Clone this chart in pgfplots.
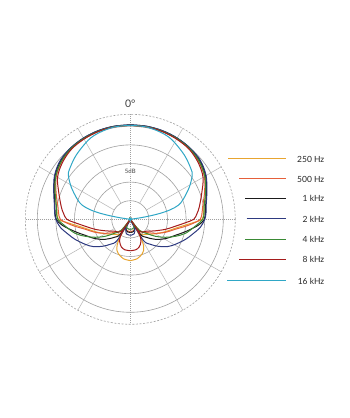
\documentclass[border=0pt]{standalone}
\usepackage{pgfplots}
\pgfplotsset{compat=1.18}
\usepackage{pgfplotstable}
\usepgfplotslibrary{polar}
\usepackage{fontspec}
\setmainfont{Lato}

\definecolor{colA}{HTML}{E8A530}
\definecolor{colB}{HTML}{E5603A}
\definecolor{colC}{HTML}{1A1A1A}
\definecolor{colD}{HTML}{2E3A80}
\definecolor{colE}{HTML}{3A8A35}
\definecolor{colF}{HTML}{A51C1C}
\definecolor{colG}{HTML}{2FA7C6}
\definecolor{ringc}{HTML}{A0A0A0}
\definecolor{spokec}{HTML}{B4B4B4}

% angle (deg, from front, one side) and radius
\pgfplotstableread{
a r
0 94
10 94
20 93.8
30 93.3
40 92.5
50 90.5
60 86.5
70 80.5
80 75
85 73.5
90 72
92.7 64.1
95.9 55.6
101.3 45.9
109.2 37.4
120.1 28.9
135 21.2
145.4 17.6
147 0
149.5 12
150.5 22
153 29
157 34
161 36.5
170 40
180 41.3
}\tA
\pgfplotstableread{
a r
0 94
10 93.9
20 93.6
30 93
40 92
50 89.5
60 85.5
70 79
80 73.5
85 72
90 70
93.6 63.1
97.2 55.7
102.5 46.1
110.2 37.6
119.2 28.7
130.9 19.8
140.7 14.2
143 0
146 6
152 10
165 12
180 12
}\tB
\pgfplotstableread{
a r
0 94.5
10 94.4
20 94.2
30 93.7
40 92.8
50 91
60 87
70 81
80 76.5
85 75.5
90 74
95 68.3
102.5 56.7
109.6 47.8
118.7 40.2
128.7 32
138.4 24.1
146.3 18
147 0
150 8
160 12
170 13
180 13
}\tC
\pgfplotstableread{
a r
0 94.5
10 94.5
20 94.3
30 93.8
40 93
50 91.5
60 87.5
70 81.5
80 77
85 76
90 74.5
96.5 70.5
103.6 63.8
109.9 58.8
119.1 51.5
126.4 46
134 38.9
141.3 32
148.2 24.7
149 0
155 10
165 15
180 16
}\tD
\pgfplotstableread{
a r
0 94
10 94
20 93.7
30 93.2
40 92.3
50 90
60 86
70 80
80 75
85 74
90 72.5
95.2 66.3
104.2 57
110.7 48.1
117 39.6
124.2 30.2
131.2 21.3
140.7 14.2
143 0
147 6
155 9
170 10
180 10
}\tE
\pgfplotstableread{
a r
0 94
10 93.8
20 93.4
30 92.6
40 91.5
50 88.5
60 84
70 76
80 70
85 67
90 63.5
93.5 55.4
98.8 45.5
105.8 36.7
114.7 27.5
128.1 19.4
143.8 15.2
145 0
146 12
150 20
155 25
162 29
170 31
180 31.4
}\tF
\pgfplotstableread{
a r
0 94
10 93.7
20 92
28 89.6
40 84
50 79
54.6 76
61.5 67.1
69.3 56.6
73.7 50
76.6 41.1
78.7 30.6
80.1 20.3
81.5 10.1
83 0
}\tG

\begin{document}
\begin{tikzpicture}
\path[use as bounding box, fill=white] (0,0) rectangle (350bp,418bp);
\begin{polaraxis}[
  at={(130.3bp,198.7bp)}, anchor=center,
  scale only axis, width=210bp, height=210bp,
  ymin=0, ymax=105,
  xtick=\empty, ytick=\empty,
  axis line style={draw=none},
  clip=false,
  every axis plot/.append style={line width=1.0bp, smooth, tension=0.55, no markers},
]
% grid
\draw[ringc, line width=0.6bp] (axis cs:0,0) circle[radius=18.6bp];
\draw[ringc, line width=0.6bp] (axis cs:0,0) circle[radius=37.2bp];
\draw[ringc, line width=0.6bp] (axis cs:0,0) circle[radius=55.8bp];
\draw[ringc, line width=0.6bp] (axis cs:0,0) circle[radius=74.4bp];
\draw[ringc, line width=0.6bp] (axis cs:0,0) circle[radius=93bp];
\draw[ringc, line width=0.6bp, dash pattern=on 2bp off 1.6bp] (axis cs:0,0) circle[radius=105bp];
\draw[spokec, line width=0.5bp] (axis cs:30,18.6) -- (axis cs:30,105);
\draw[spokec, line width=0.5bp] (axis cs:60,18.6) -- (axis cs:60,105);
\draw[spokec, line width=0.5bp] (axis cs:120,18.6) -- (axis cs:120,105);
\draw[spokec, line width=0.5bp] (axis cs:150,18.6) -- (axis cs:150,105);
\draw[spokec, line width=0.5bp] (axis cs:210,18.6) -- (axis cs:210,105);
\draw[spokec, line width=0.5bp] (axis cs:240,18.6) -- (axis cs:240,105);
\draw[spokec, line width=0.5bp] (axis cs:300,18.6) -- (axis cs:300,105);
\draw[spokec, line width=0.5bp] (axis cs:330,18.6) -- (axis cs:330,105);
\draw[ringc, line width=0.6bp, dash pattern=on 1bp off 1bp] (axis cs:0,105) -- (axis cs:180,105);
\draw[ringc, line width=0.6bp, dash pattern=on 1bp off 1bp] (axis cs:90,105) -- (axis cs:270,105);
% curves
\addplot[colA] table[x expr=90-\thisrow{a}, y=r] {\tA};
\addplot[colA] table[x expr=90+\thisrow{a}, y=r] {\tA};
\addplot[colB] table[x expr=90-\thisrow{a}, y=r] {\tB};
\addplot[colB] table[x expr=90+\thisrow{a}, y=r] {\tB};
\addplot[colC] table[x expr=90-\thisrow{a}, y=r] {\tC};
\addplot[colC] table[x expr=90+\thisrow{a}, y=r] {\tC};
\addplot[colD] table[x expr=90-\thisrow{a}, y=r] {\tD};
\addplot[colD] table[x expr=90+\thisrow{a}, y=r] {\tD};
\addplot[colE] table[x expr=90-\thisrow{a}, y=r] {\tE};
\addplot[colE] table[x expr=90+\thisrow{a}, y=r] {\tE};
\addplot[colF] table[x expr=90-\thisrow{a}, y=r] {\tF};
\addplot[colF] table[x expr=90+\thisrow{a}, y=r] {\tF};
\addplot[colG] table[x expr=90-\thisrow{a}, y=r] {\tG};
\addplot[colG] table[x expr=90+\thisrow{a}, y=r] {\tG};
\addplot[colG, only marks, mark=*, mark size=1.3bp] coordinates {(0,0)};
\end{polaraxis}
\node[text=black!75] at (130.3bp,314bp) {\fontsize{10.5}{12}\selectfont 0°};
\node[fill=white, rounded corners=2bp, inner sep=1bp, text=black!75] at (130.3bp,246.5bp) {\fontsize{6}{7}\selectfont 5dB};
% legend
\draw[colA, line width=1.2bp] (228.3bp,259.5bp) -- (286bp,259.5bp);
\draw[colB, line width=1.2bp] (239.3bp,239.5bp) -- (286bp,239.5bp);
\draw[colC, line width=1.2bp] (245bp,219.5bp) -- (286bp,219.5bp);
\draw[colD, line width=1.2bp] (246.7bp,199.5bp) -- (286bp,199.5bp);
\draw[colE, line width=1.2bp] (245bp,178.5bp) -- (286bp,178.5bp);
\draw[colF, line width=1.2bp] (239.3bp,158.5bp) -- (286bp,158.5bp);
\draw[colG, line width=1.2bp] (227.3bp,137.5bp) -- (286bp,137.5bp);
\begin{scope}[every node/.style={anchor=east, inner sep=0pt, text=black!85, font=\fontsize{8.5}{10}\selectfont}]
\node at (324.5bp,259bp) {250 Hz};
\node at (324.5bp,239bp) {500 Hz};
\node at (324.5bp,219.3bp) {1 kHz};
\node at (324.5bp,199bp) {2 kHz};
\node at (324.5bp,178.7bp) {4 kHz};
\node at (324.5bp,158.7bp) {8 kHz};
\node at (324.5bp,137bp) {16 kHz};
\end{scope}
\end{tikzpicture}
\end{document}
